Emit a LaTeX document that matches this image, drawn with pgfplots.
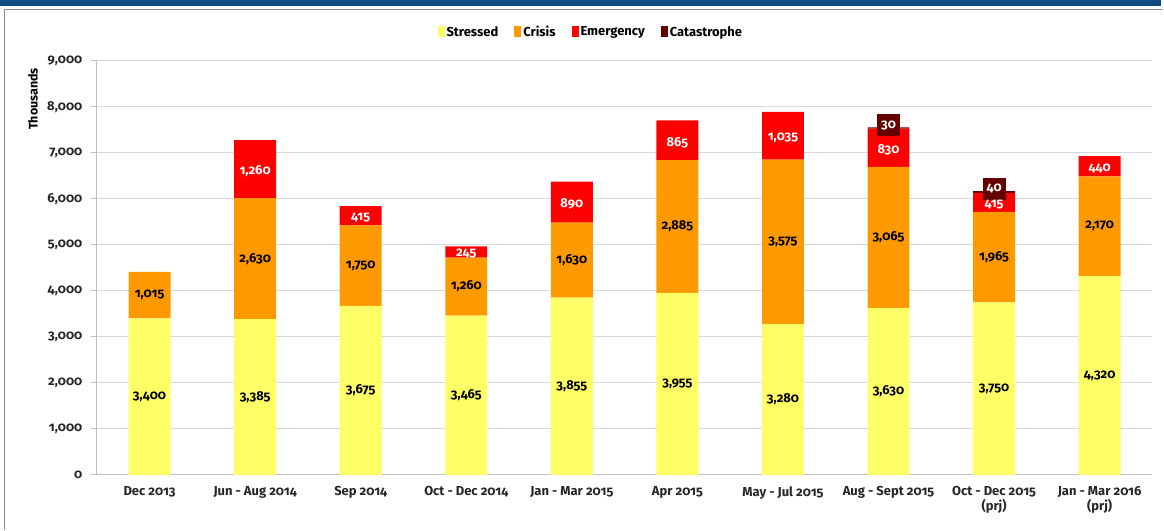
\documentclass[border=0pt]{standalone}
\usepackage{pgfplots}
\usepackage{pgfplotstable}
\pgfplotsset{compat=1.18}
\usepackage{fontspec}
\setmainfont{Fira Sans}[Numbers=OldStyle]
\definecolor{cStr}{HTML}{FFFF66}
\definecolor{cCri}{HTML}{FF9900}
\definecolor{cEme}{HTML}{FF0000}
\definecolor{cCat}{HTML}{640000}
\definecolor{bandblue}{HTML}{0F4A80}
\definecolor{framegray}{HTML}{8C8C8C}
\definecolor{gridgray}{HTML}{D9D9D9}
\definecolor{axisgray}{HTML}{BFBFBF}

\pgfplotstableread{
x y
0 3400
1 3385
2 3675
3 3465
4 3855
5 3955
6 3280
7 3630
8 3750
9 4320
}\stressed
\pgfplotstableread{
x y
0 1015
1 2630
2 1750
3 1260
4 1630
5 2885
6 3575
7 3065
8 1965
9 2170
}\crisis
\pgfplotstableread{
x y
0 0
1 1260
2 415
3 245
4 890
5 865
6 1035
7 830
8 415
9 440
}\emergency
\pgfplotstableread{
x y
0 0
1 0
2 0
3 0
4 0
5 0
6 0
7 30
8 40
9 0
}\catastrophe

\pgfplotsset{
  seglabels/.style={
    every node near coord/.append style={anchor=center, font=\fontsize{13}{14}\selectfont\bfseries, text=#1},
  }
}

\begin{document}
\begin{tikzpicture}[x=1pt,y=1pt]
\path (0,0) rectangle (1164,529);
\fill[bandblue] (0,523) rectangle (1164,529);
\draw[framegray, line width=1.3pt] (4.5,-2) -- (4.5,519.5) -- (1166,519.5);
\begin{axis}[
  at={(97pt,53pt)}, anchor=south west, scale only axis,
  width=1058pt, height=415pt,
  ybar stacked, bar width=42pt,
  xmin=-0.5, xmax=9.5, ymin=0, ymax=9000,
  axis x line*=bottom, axis y line*=left,
  axis line style={axisgray, line width=1pt, -},
  xtick={0,...,9},
  xticklabels={Dec 2013, Jun - Aug 2014, Sep 2014, Oct - Dec 2014, Jan - Mar 2015, Apr 2015, May - Jul 2015, Aug - Sept 2015, {Oct - Dec 2015\\(prj)}, {Jan - Mar 2016\\(prj)}},
  xticklabel style={align=center, font=\fontsize{13}{15}\selectfont\bfseries, yshift=-8pt, text=black!85},
  major x tick style={draw=none},
  extra x ticks={-0.5,0.5,...,9.5},
  extra x tick labels={},
  extra x tick style={tick align=outside, major tick length=6pt, tick style={axisgray, line width=1pt}, grid=none},
  ytick={0,1000,...,9000},
  y tick style={axisgray, line width=1pt},
  ytick align=outside, major tick length=6pt,
  yticklabel style={font=\fontsize{13}{15}\selectfont\bfseries, xshift=-5pt, text=black!85},
  ymajorgrids, grid style={gridgray, line width=1pt},
  /pgf/number format/assume math mode=true,
  /pgf/number format/1000 sep={,},
  scaled y ticks=false,
  ylabel={Thousands},
  ylabel style={at={(axis description cs:-0.0605,0.908)}, anchor=center, font=\fontsize{12.5}{13}\selectfont\bfseries},
  legend columns=4,
  legend style={at={(0.468,1.07)}, anchor=center, draw=none, fill=none,
    font=\fontsize{13}{14}\selectfont\bfseries,
    /tikz/every even column/.append style={column sep=14pt}},
  legend image code/.code={\fill[#1,draw=none] (0pt,-5pt) rectangle (7pt,6pt);},
  nodes near coords={\pgfmathfloatifflags{\pgfplotspointmeta}{0}{}{\pgfmathprintnumber{\pgfplotspointmeta}}},
]
\addplot[fill=cStr, draw=none, seglabels=black] table[x=x,y=y,meta=y]{\stressed};
\addplot[fill=cCri, draw=none, seglabels=black] table[x=x,y=y,meta=y]{\crisis};
\addplot[fill=cEme, draw=none, seglabels=white, every node near coord/.append style={yshift=-2pt}] table[x=x,y=y,meta=y]{\emergency};
\addplot[fill=cCat, draw=none, seglabels=white, every node near coord/.append style={yshift=3pt},
  nodes near coords={\pgfmathfloatifflags{\pgfplotspointmeta}{0}{}{\setlength\fboxsep{4pt}\colorbox{cCat}{\rule[-4pt]{0pt}{14pt}\pgfmathprintnumber{\pgfplotspointmeta}}}}] table[x=x,y=y,meta=y]{\catastrophe};
\legend{Stressed, Crisis, Emergency, Catastrophe}
\end{axis}
\end{tikzpicture}
\end{document}
